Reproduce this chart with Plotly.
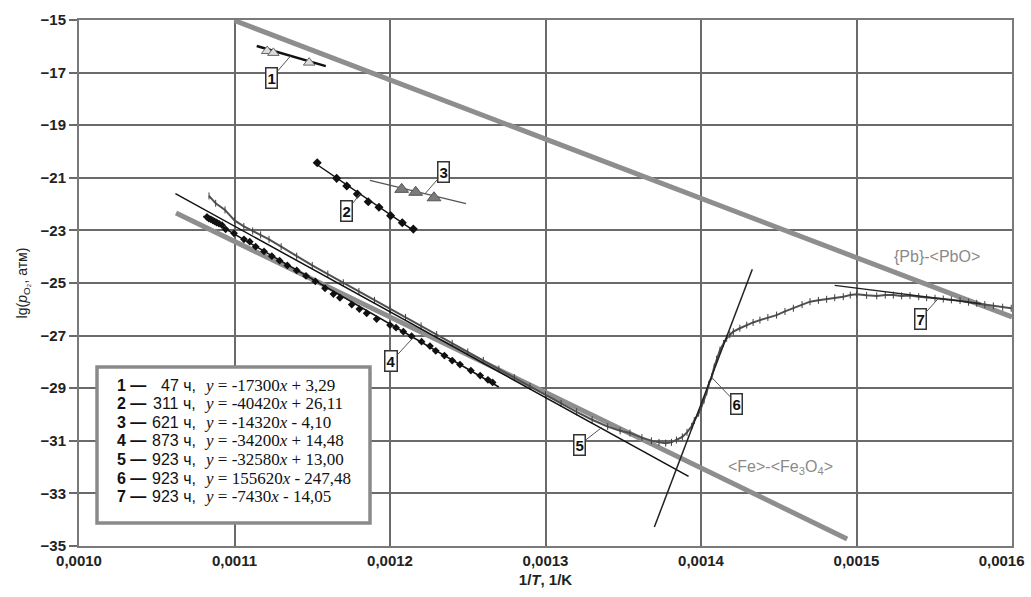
import plotly.graph_objects as go

# ---------------- data ----------------
# equilibrium lines
pb_x = [0.0011, 0.0016]
pb_y = [-15.02, -26.29]
fe_x = [0.0010624, 0.001494]
fe_y = [-22.34, -34.73]

# 47 h
s1_x = [0.001121, 0.001125, 0.001148]
s1_y = [-16.18, -16.25, -16.62]

# 311 h
s2_x = [0.0011532, 0.0011657, 0.0011722, 0.0011790, 0.0011860, 0.0011929, 0.0012004, 0.0012079, 0.0012150]
s2_y = [-20.43, -21.02, -21.31, -21.62, -21.91, -22.12, -22.44, -22.71, -22.95]

# 621 h
s3_x = [0.0012075, 0.0012165, 0.0012283]
s3_y = [-21.44, -21.55, -21.76]

# 873 h
s4_x = [0.0010823, 0.0010835, 0.0010848, 0.0010860, 0.0010872, 0.0010885, 0.0010900, 0.0010920,
        0.0010943, 0.0010997, 0.0011061, 0.0011098, 0.0011136, 0.0011190, 0.0011240, 0.0011290,
        0.0011340, 0.0011400, 0.0011460, 0.0011520, 0.0011582, 0.0011636, 0.0011678, 0.0011754,
        0.0011803, 0.0011850, 0.0011914, 0.0012000, 0.0012039, 0.0012086, 0.0012139, 0.0012203,
        0.0012257, 0.0012294, 0.0012350, 0.0012400, 0.0012450, 0.0012520, 0.0012580, 0.0012630,
        0.0012660]
s4_y = [-22.49, -22.55, -22.58, -22.62, -22.66, -22.70, -22.74, -22.80,
        -22.96, -23.11, -23.34, -23.43, -23.62, -23.80, -23.98, -24.15,
        -24.33, -24.52, -24.73, -24.94, -25.20, -25.42, -25.56, -25.82,
        -25.99, -26.15, -26.37, -26.60, -26.70, -26.85, -27.02, -27.23,
        -27.40, -27.58, -27.76, -27.95, -28.10, -28.33, -28.52, -28.68,
        -28.78]

# 923 h (curve 5 - 6 - 7)
s923_x = [0.0010836, 0.0010879, 0.0010939, 0.0011000, 0.0011060, 0.0011117, 0.0011168, 0.0011222,
          0.0011300, 0.0011400, 0.0011500, 0.0011600, 0.0011700, 0.0011800, 0.0011900, 0.0012000,
          0.0012100, 0.0012200, 0.0012300, 0.0012400, 0.0012500, 0.0012600, 0.0012700, 0.0012800,
          0.0012900, 0.0013000, 0.0013100, 0.0013200, 0.0013300, 0.0013400, 0.0013480, 0.0013543,
          0.0013620, 0.0013681, 0.0013730, 0.0013773, 0.0013810, 0.0013842, 0.0013880, 0.0013910,
          0.0013940, 0.0013957, 0.0013985, 0.0014003, 0.0014020, 0.0014037, 0.0014050, 0.0014069,
          0.0014085, 0.0014100, 0.0014122, 0.0014145, 0.0014165, 0.0014185, 0.0014208, 0.0014250,
          0.0014294, 0.0014335, 0.0014379, 0.0014430, 0.0014486, 0.0014540, 0.0014594, 0.0014650,
          0.0014701, 0.0014755, 0.0014808, 0.0014860, 0.0014915, 0.0014960, 0.0015001, 0.0015065,
          0.0015130, 0.0015185, 0.0015237, 0.0015290, 0.0015344, 0.0015400, 0.0015451, 0.0015505,
          0.0015558, 0.0015610, 0.0015666, 0.0015720, 0.0015773, 0.0015825, 0.0015880, 0.0015940,
          0.0015995]
s923_y = [-21.69, -21.97, -22.22, -22.62, -22.85, -23.02, -23.17, -23.34,
          -23.62, -23.98, -24.33, -24.66, -24.99, -25.32, -25.66, -25.98,
          -26.31, -26.63, -26.96, -27.29, -27.62, -27.94, -28.27, -28.60,
          -28.93, -29.25, -29.58, -29.90, -30.20, -30.46, -30.62, -30.70,
          -30.88, -31.00, -31.06, -31.09, -31.06, -30.97, -30.85, -30.68,
          -30.45, -30.23, -29.95, -29.71, -29.45, -29.14, -28.85, -28.56,
          -28.20, -27.90, -27.55, -27.30, -27.10, -26.97, -26.85, -26.72,
          -26.60, -26.50, -26.41, -26.31, -26.22, -26.08, -25.96, -25.82,
          -25.71, -25.66, -25.62, -25.56, -25.52, -25.46, -25.43, -25.47,
          -25.49, -25.46, -25.46, -25.49, -25.48, -25.52, -25.56, -25.58,
          -25.61, -25.64, -25.67, -25.73, -25.77, -25.82, -25.87, -25.92,
          -25.96]

# trend lines (legend equations) and their x extents
fit_num = [1, 2, 3, 4, 5, 6, 7]
fit_hours = [47, 311, 621, 873, 923, 923, 923]
fit_slope = [-17300, -40420, -14320, -34200, -32580, 155620, -7430]
fit_icpt = [3.29, 26.11, -4.10, 14.48, 13.00, -247.48, -14.05]
fit_x0 = [0.0011143, 0.001153, 0.0011871, 0.00108, 0.001062, 0.00137, 0.001486]
fit_x1 = [0.0011587, 0.001215, 0.0012489, 0.00127, 0.001392, 0.001433, 0.00158]

# callout label anchor points (x, y) and box offsets in pixels
lab_x = [0.0011361, 0.0011807, 0.0012225, 0.0012150, 0.0013361, 0.0014070, 0.0015526]
lab_y = [-16.365, -21.61, -21.61, -27.07, -30.50, -28.60, -25.59]
lab_ax = [-19, -13, 19, -22, -22, 25, -18]
lab_ay = [22, 17, -22, 24, 17, 26, 20]

x_ticks = [0.0010, 0.0011, 0.0012, 0.0013, 0.0014, 0.0015, 0.0016]
y_ticks = [-15, -17, -19, -21, -23, -25, -27, -29, -31, -33, -35]

# tick label texts (comma decimal); the last one is kept inside the page like the original
x_ticktext = [f"{v:.4f}".replace(".", ",") for v in x_ticks]
x_ticktext[-1] = x_ticktext[-1] + "\u00a0\u00a0\u00a0\u00a0\u00a0"

# ---------------- figure ----------------
fig = go.Figure()

GRAYLINE = "#8e8e8e"
fig.add_trace(go.Scatter(x=pb_x, y=pb_y, mode="lines",
                         line=dict(color=GRAYLINE, width=5), hoverinfo="skip"))
fig.add_trace(go.Scatter(x=fe_x, y=fe_y, mode="lines",
                         line=dict(color=GRAYLINE, width=5), hoverinfo="skip"))

# 923 h data
fig.add_trace(go.Scatter(x=s923_x, y=s923_y, mode="lines+markers",
                         line=dict(color="#505050", width=2),
                         marker=dict(symbol="line-ns", size=5,
                                     line=dict(color="#404040", width=1))))
# 873 h data
fig.add_trace(go.Scatter(x=s4_x, y=s4_y, mode="markers",
                         marker=dict(symbol="diamond", size=6, color="#111")))
# 311 h data
fig.add_trace(go.Scatter(x=s2_x, y=s2_y, mode="markers",
                         marker=dict(symbol="diamond", size=7, color="#111")))

# trend lines
fit_colors = ["#111", "#111", "#555", "#111", "#111", "#222", "#222"]
fit_widths = [2.5, 1.5, 1.3, 1.5, 1.5, 1.5, 1.3]
for i in range(len(fit_num)):
    xs = [fit_x0[i], fit_x1[i]]
    ys = [fit_slope[i] * xv + fit_icpt[i] for xv in xs]
    fig.add_trace(go.Scatter(x=xs, y=ys, mode="lines",
                             line=dict(color=fit_colors[i], width=fit_widths[i]),
                             hoverinfo="skip"))

# 47 h and 621 h triangles
fig.add_trace(go.Scatter(x=s1_x, y=s1_y, mode="markers",
                         marker=dict(symbol="triangle-up", size=10, color="#dcdcdc",
                                     line=dict(color="#666", width=1))))
fig.add_trace(go.Scatter(x=s3_x, y=s3_y, mode="markers",
                         marker=dict(symbol="triangle-up", size=12, color="#7a7a7a",
                                     line=dict(color="#555", width=1))))

# callout boxes
for i in range(len(fit_num)):
    fig.add_annotation(x=lab_x[i], y=lab_y[i], xref="x", yref="y",
                       text=f"<b>{fit_num[i]}</b>", showarrow=True, arrowhead=0,
                       arrowwidth=1, arrowcolor="#555", ax=lab_ax[i], ay=lab_ay[i],
                       axref="pixel", ayref="pixel",
                       font=dict(family="Liberation Sans, Arial", size=15, color="#111"),
                       bgcolor="white", bordercolor="#333", borderwidth=1.5, borderpad=1)

# line names
fig.add_annotation(x=0.0015515, y=-24.0, xref="x", yref="y", text="{Pb}-<PbO>",
                   showarrow=False,
                   font=dict(family="Liberation Sans, Arial", size=16, color="#8a8a8a"))
fig.add_annotation(x=0.0014514, y=-32.03, xref="x", yref="y",
                   text="<Fe>-<Fe<sub>3</sub>O<sub>4</sub>>",
                   showarrow=False,
                   font=dict(family="Liberation Sans, Arial", size=16, color="#8a8a8a"))

# legend box
L, R, T, B = 79, 1012, 20, 546
def px(p):
    return (p - L) / (R - L)
def py(p):
    return (B - p) / (B - T)

fig.add_shape(type="rect", xref="paper", yref="paper",
              x0=px(97), x1=px(370), y0=py(523), y1=py(367),
              fillcolor="white", line=dict(color="#8a8a8a", width=3.5), layer="above")

for i in range(len(fit_num)):
    yy = py(385 + i * 18.65)
    fig.add_annotation(x=px(115), y=yy, xref="paper", yref="paper", xanchor="left",
                       yanchor="middle", showarrow=False,
                       text=f"<b>{fit_num[i]} \u2014</b>",
                       font=dict(family="Liberation Sans, Arial", size=16, color="#111"))
    fig.add_annotation(x=px(198), y=yy, xref="paper", yref="paper", xanchor="right",
                       yanchor="middle", showarrow=False,
                       text=f"{fit_hours[i]} ч,",
                       font=dict(family="Liberation Sans Narrow, Liberation Sans, Arial",
                                 size=16, color="#111"))
    b = fit_icpt[i]
    sign = "+" if b >= 0 else "-"
    btxt = f"{abs(b):.2f}".replace(".", ",")
    eq = f"<i>y</i> = {fit_slope[i]}<i>x</i> {sign} {btxt}"
    fig.add_annotation(x=px(202), y=yy, xref="paper", yref="paper", xanchor="left",
                       yanchor="middle", showarrow=False, text=eq,
                       font=dict(family="Liberation Serif, Times New Roman", size=17,
                                 color="#111"))

tickfont = dict(family="Liberation Sans, Arial", size=15, color="#222", weight="bold")

fig.update_layout(
    width=1031, height=597, autosize=False,
    margin=dict(l=L, r=1031 - R, t=T, b=597 - B),
    paper_bgcolor="white", plot_bgcolor="white",
    showlegend=False, separators=", ",
    xaxis=dict(range=[0.0010, 0.0016], tickvals=x_ticks, ticktext=x_ticktext,
               showgrid=True, gridcolor="#6a6a6a", gridwidth=1.5,
               showline=True, linecolor="#7a7a7a", linewidth=2, mirror=True,
               ticks="", tickfont=tickfont, zeroline=False, automargin=False,
               ticklabeloverflow="allow",
               title=dict(text="1/<i>T</i>, 1/K", standoff=6,
                          font=dict(family="Liberation Sans, Arial", size=15,
                                    color="#222", weight="bold"))),
    yaxis=dict(range=[-35, -15], tickvals=y_ticks,
               showgrid=True, gridcolor="#6a6a6a", gridwidth=1.5,
               showline=True, linecolor="#7a7a7a", linewidth=2, mirror=True,
               ticks="outside", ticklen=8, tickcolor="#6a6a6a", tickwidth=1.5,
               tickfont=tickfont, zeroline=False, automargin=False,
               ticklabeloverflow="allow",
               title=dict(text="lg(<i>p</i><sub>O₂</sub>, атм)", standoff=10,
                          font=dict(family="Liberation Sans, Arial", size=14,
                                    color="#222"))),
)

fig.write_html("out.html", config={"displayModeBar": False},
               post_script="document.body.style.margin='0px';document.body.style.overflow='hidden';")
